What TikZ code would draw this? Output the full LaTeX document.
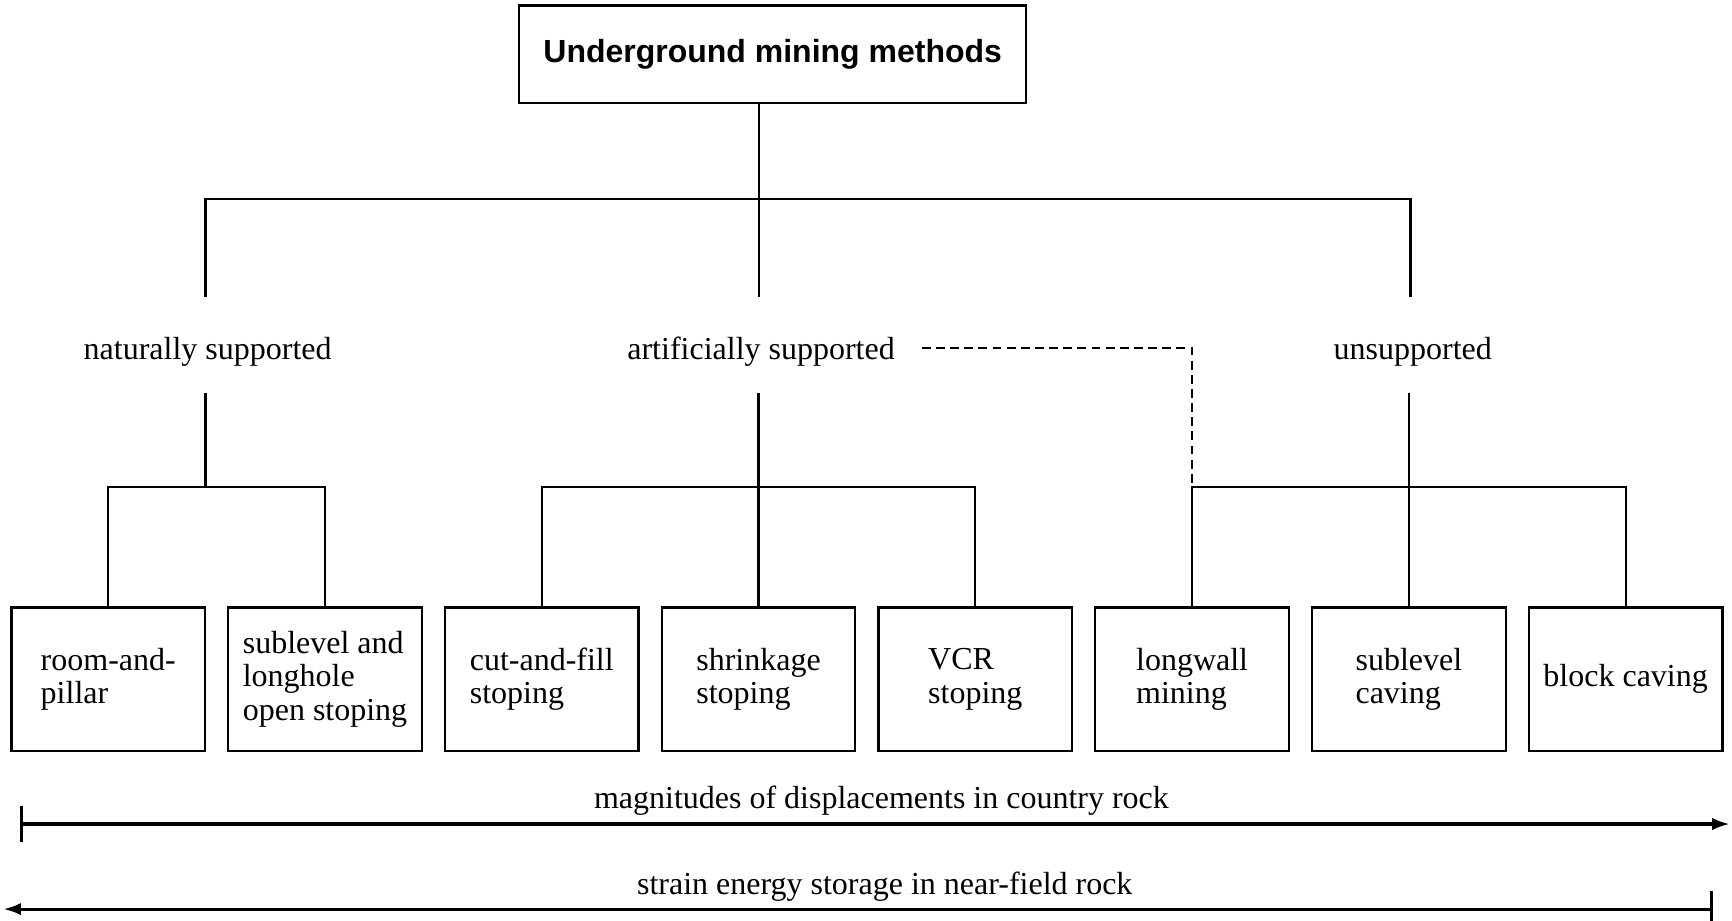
\documentclass[tikz,border=0pt]{standalone}
\usepackage{fontspec}
\setmainfont{Liberation Serif}
\setsansfont{Liberation Sans}
\usetikzlibrary{arrows.meta}

\begin{document}
\begin{tikzpicture}[x=0.125mm, y=-0.125mm, node distance=24.53mm,
  every node/.style={font=\fontsize{10.3}{10.8}\selectfont}]
\tikzstyle{heading} = [rectangle, minimum width=57.4mm, minimum height=11mm,
draw=black, line width=0.7pt, font=\sffamily\bfseries\fontsize{10.3}{12}\selectfont]
\tikzstyle{group} = [inner sep=0pt, text height=7.1mm, text depth=3.65mm]
\tikzstyle{method} = [rectangle, minimum width=21.9mm, minimum height=16.25mm,
align=left, draw=black, line width=0.7pt]
\tikzstyle{link} = [line width=0.7pt]
\tikzstyle{gauge} = [line width=1pt]

\useasboundingbox (0,0) rectangle (1568,833);

% Nodes
\node (title) [heading] at (699.5,49) {Underground mining methods};
\node (nat) [group] at (188,312) {naturally supported};
\node (art) [group] at (689,312) {artificially supported};
\node (uns) [group] at (1279,312) {unsupported};

\node (b1) [method] at (98,615) {room-and-\\pillar};
\node (b2) [method, right of=b1] {sublevel and\\longhole\\open stoping};
\node (b3) [method, right of=b2] {cut-and-fill\\stoping};
\node (b4) [method, right of=b3] {shrinkage\\stoping};
\node (b5) [method, right of=b4] {VCR\\stoping};
\node (b6) [method, right of=b5] {longwall\\mining};
\node (b7) [method, right of=b6] {sublevel\\caving};
\node (b8) [method, right of=b7] {block caving};

\node (disp) at (798,725) {magnitudes of displacements in country rock};
\node (strain) at (801,803) {strain energy storage in near-field rock};

\coordinate (hub) at (687,180);
\coordinate (bar) at (0,441);
\coordinate (dispL) at (18,746);
\coordinate (dispR) at (1566,746);
\coordinate (strainL) at (3,823);
\coordinate (strainR) at (1551,823);

% Lines
\draw [link] (title.south -| hub) -- (hub);
\draw [link] (nat.north -| 186,0) |- (hub) -| (uns.north -| 1277,0);
\draw [link] (hub) -- (art.north -| hub);
\draw [link] (nat.south -| 186,0) -- (bar -| 186,0);
\draw [link] (b1.north) |- (b2.north |- bar) -- (b2.north);
\draw [link] (art.south -| b4.north) -- (b4.north);
\draw [link] (b3.north) |- (b5.north |- bar) -- (b5.north);
\draw [link] (uns.south -| b7.north) -- (b7.north);
\draw [link] (b6.north) |- (b8.north |- bar) -- (b8.north);
\draw [link, dash pattern=on 1mm off 0.6mm] ([xshift=3mm, yshift=-0.4mm]art.east) -| (b6.north |- bar);

% Arrows
\draw [gauge, {Bar[width=4mm]}-{Latex[length=2mm,width=1.4mm]}] (dispL) -- (dispR);
\draw [gauge, {Latex[length=2mm,width=1.4mm]}-{Bar[width=4mm]}] (strainL) -- (strainR);
\end{tikzpicture}
\end{document}
